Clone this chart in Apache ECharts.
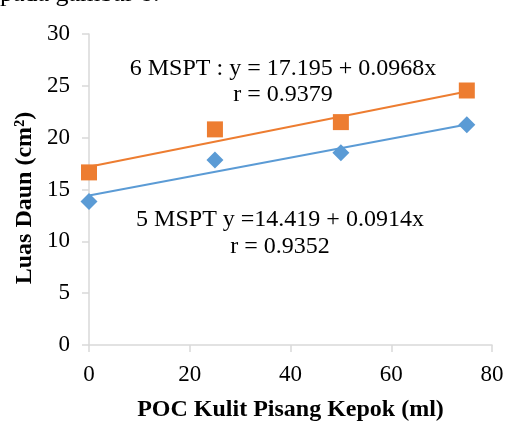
<!DOCTYPE html>
<html>
<head>
<meta charset="utf-8">
<script src="https://cdn.jsdelivr.net/npm/echarts@6/dist/echarts.min.js"></script>
<style>
html,body{margin:0;padding:0;background:#fff;}
#chart{width:507px;height:421px;}
</style>
</head>
<body>
<div id="chart"></div>
<script>
// Data
const doses = [0, 25, 50, 75];
const mspt5 = [13.85, 17.85, 18.55, 21.25];
const mspt6 = [16.65, 20.8, 21.5, 24.55];
const trend5 = { intercept: 14.419, slope: 0.0914 };
const trend6 = { intercept: 17.195, slope: 0.0968 };
const eq5 = ['5 MSPT y =14.419 + 0.0914x', 'r = 0.9352'];
const eq6 = ['6 MSPT : y = 17.195 + 0.0968x', 'r = 0.9379'];
const xTitle = 'POC Kulit Pisang Kepok (ml)';
const yTitle = 'Luas Daun (cm²)';
const topText = 'pada gambar 8.';

const BLUE = '#5B9BD5', ORANGE = '#ED7D31';
const FONT = '"Liberation Serif", "Times New Roman", serif';

function trendLine(t) {
  const x0 = doses[0], x1 = doses[doses.length - 1];
  return [[x0, t.intercept + t.slope * x0], [x1, t.intercept + t.slope * x1]];
}

function textAt(str, x, y) {
  return {type: 'text', x: x, y: y, z: 10,
    style: {text: str, font: '24px ' + FONT, fill: '#000', textAlign: 'center', textVerticalAlign: 'middle'}};
}

const chart = echarts.init(document.getElementById('chart'), null, {renderer: 'canvas'});
chart.setOption({
  animation: false,
  backgroundColor: '#fff',
  grid: {left: 89, right: 15, top: 34, bottom: 76, containLabel: false, outerBoundsMode: 'none'},
  xAxis: {
    type: 'value', min: 0, max: 80, interval: 20,
    axisLine: {show: true, lineStyle: {color: '#d9d9d9', width: 1.5}},
    axisTick: {show: true, length: 7, lineStyle: {color: '#d9d9d9', width: 1.5}},
    splitLine: {show: false},
    axisLabel: {color: '#000', fontFamily: FONT, fontSize: 23, margin: 18},
    name: xTitle, nameLocation: 'middle', nameGap: 53,
    nameTextStyle: {color: '#000', fontFamily: FONT, fontSize: 24, fontWeight: 'bold'}
  },
  yAxis: {
    type: 'value', min: 0, max: 30, interval: 5,
    axisLine: {show: true, lineStyle: {color: '#d9d9d9', width: 1.5}},
    axisTick: {show: true, length: 7, lineStyle: {color: '#d9d9d9', width: 1.5}},
    splitLine: {show: false},
    axisLabel: {color: '#000', fontFamily: FONT, fontSize: 23, margin: 19}
  },
  series: [
    {type: 'line', data: trendLine(trend6), symbol: 'none', lineStyle: {color: ORANGE, width: 2}, z: 2},
    {type: 'line', data: trendLine(trend5), symbol: 'none', lineStyle: {color: BLUE, width: 2}, z: 2},
    {type: 'scatter', data: doses.map((d, i) => [d, mspt6[i]]), symbol: 'rect', symbolSize: 16, itemStyle: {color: ORANGE, opacity: 1}, z: 3},
    {type: 'scatter', data: doses.map((d, i) => [d, mspt5[i]]), symbol: 'diamond', symbolSize: 17, itemStyle: {color: BLUE, opacity: 1}, z: 3}
  ],
  graphic: [
    {type: 'text', left: 0, top: -19, style: {text: topText, font: '26px ' + FONT, fill: '#000'}},
    {type: 'text', x: 25, y: 198, rotation: Math.PI / 2, z: 10,
      style: {text: yTitle, font: 'bold 24px ' + FONT, fill: '#000', textAlign: 'center', textVerticalAlign: 'middle'}},
    textAt(eq6[0], 283, 69),
    textAt(eq6[1], 283, 95),
    textAt(eq5[0], 280, 220),
    textAt(eq5[1], 280, 247)
  ]
});
</script>
</body>
</html>
